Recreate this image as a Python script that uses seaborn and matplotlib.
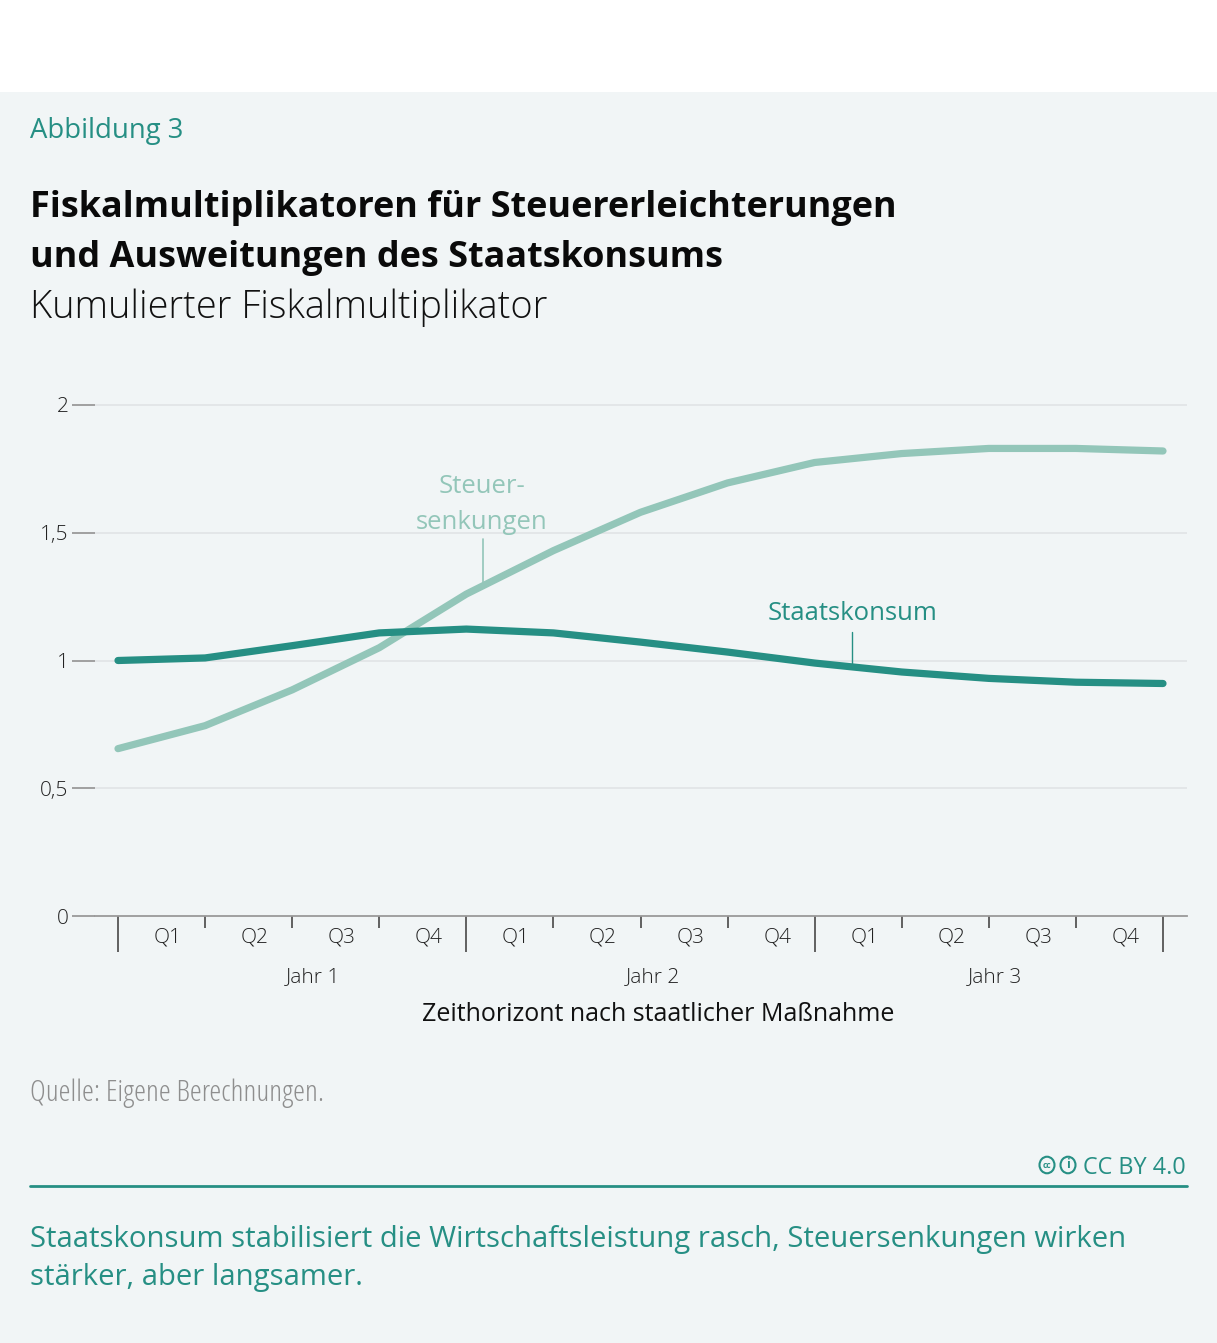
import matplotlib.pyplot as plt
import pandas as pd
import seaborn as sns
import numpy as np

# data
quarters = list(range(13))
staatskonsum = [1.0, 1.01, 1.058, 1.108, 1.123, 1.108, 1.072, 1.033, 0.99, 0.955, 0.93, 0.915, 0.91]
steuersenkungen = [0.655, 0.745, 0.885, 1.05, 1.26, 1.43, 1.58, 1.695, 1.775, 1.81, 1.83, 1.83, 1.82]
q_labels = ["Q1", "Q2", "Q3", "Q4"] * 3
year_labels = ["Jahr 1", "Jahr 2", "Jahr 3"]
y_ticks = [0, 0.5, 1, 1.5, 2]
y_tick_labels = ["0", "0,5", "1", "1,5", "2"]

DARK = "#268f84"
LIGHT = "#93c6b9"
BG = "#f1f5f6"
W, H = 1217, 1343


def px(x, y):
    # pixel position -> figure fraction
    return x / W, 1 - y / H


def main():
    sns.set_theme(style="white")
    plt.rcParams["font.family"] = ["Open Sans", "DejaVu Sans"]

    data = pd.DataFrame({
        "Quartal": quarters * 2,
        "Multiplikator": staatskonsum + steuersenkungen,
        "Reihe": ["Staatskonsum"] * 13 + ["Steuersenkungen"] * 13,
    })

    fig = plt.figure(figsize=(W / 100, H / 100), dpi=100, facecolor="white")
    # grey panel below the white band
    fig.patches.append(plt.Rectangle((0, 0), 1, 1 - 92 / H, transform=fig.transFigure,
                                     facecolor=BG, edgecolor="none", zorder=-10))

    left, right = 95, 1187
    top, bottom = 380, 916
    ax = fig.add_axes([left / W, 1 - bottom / H, (right - left) / W, (bottom - top) / H])
    ax.set_facecolor(BG)

    sns.lineplot(data=data, x="Quartal", y="Multiplikator", hue="Reihe",
                 palette={"Staatskonsum": DARK, "Steuersenkungen": LIGHT},
                 hue_order=["Steuersenkungen", "Staatskonsum"],
                 linewidth=5.2, legend=False, ax=ax, solid_capstyle="round")
    # dark line drawn above the light one
    ax.get_lines()[1].set_zorder(4)

    # axes limits: data 0 at px 118, data 12 at px 1163
    ppu = (1163 - 118) / 12
    ax.set_xlim((left - 118) / ppu, (right - 118) / ppu)
    ax.set_ylim(0, (bottom - top) / 255.5)

    for s in ["top", "right", "left"]:
        ax.spines[s].set_visible(False)
    ax.spines["bottom"].set_color("#9a9a9a")
    ax.spines["bottom"].set_linewidth(1.3)

    # horizontal grid
    for v in y_ticks[1:]:
        ax.axhline(v, color="#e2e5e7", linewidth=1.3, zorder=0)

    ax.set_yticks(y_ticks)
    ax.set_yticklabels(y_tick_labels, fontsize=15, color="#222222", fontweight="light")
    ax.tick_params(axis="y", left=True, length=16.5, width=1.3, color="#9a9a9a", pad=2.5)
    ax.get_yticklines()[4].set_color("#222222")
    ax.get_yticklines()[4].set_zorder(5)

    # x ticks: long at year boundaries, short at quarters
    ax.set_xticks([0, 4, 8, 12])
    ax.set_xticks([1, 2, 3, 5, 6, 7, 9, 10, 11], minor=True)
    ax.set_xticklabels([])
    ax.tick_params(axis="x", which="major", bottom=True, length=26, width=1.3, color="#555555")
    ax.tick_params(axis="x", which="minor", bottom=True, length=8.5, width=1.3, color="#555555")

    trans = ax.get_xaxis_transform()
    for i, lab in enumerate(q_labels):
        ax.text(i + 0.57, -0.041, lab, transform=trans, ha="center", va="center",
                fontsize=15, fontweight="light", color="#222222")
    for i, (lab, off) in enumerate(zip(year_labels, [0.24, 0.14, 0.07])):
        ax.text(4 * i + 2 + off, -0.114, lab, transform=trans, ha="center", va="center",
                fontsize=15, fontweight="light", color="#222222")
    ax.text(6.2, -0.183, "Zeithorizont nach staatlicher Maßnahme", transform=trans,
            ha="center", va="center", fontsize=18, color="#111111")
    ax.set_xlabel("")
    ax.set_ylabel("")

    # direct labels
    ax.text(4.18, 1.61, "Steuer-\nsenkungen", ha="center", va="center", color=LIGHT,
            fontsize=18.5, linespacing=1.58)
    ax.plot([4.19, 4.19], [1.3, 1.475], color=LIGHT, linewidth=1.2)
    ax.text(8.43, 1.185, "Staatskonsum", ha="center", va="center", color=DARK, fontsize=18.5)
    ax.plot([8.43, 8.43], [0.985, 1.11], color=DARK, linewidth=1.0)

    # header texts
    fig.text(*px(30, 131), "Abbildung 3", color=DARK, fontsize=19.8, va="center")
    fig.text(*px(30, 208), "Fiskalmultiplikatoren für Steuererleichterungen",
             fontsize=25.9, fontweight="bold", color="#0a0a0a", va="center")
    fig.text(*px(30, 258), "und Ausweitungen des Staatskonsums",
             fontsize=25.9, fontweight="bold", color="#0a0a0a", va="center")
    fig.text(*px(30, 308), "Kumulierter Fiskalmultiplikator", fontsize=27.3,
             fontweight="light", color="#111111", va="center")

    # footer
    fig.text(*px(30, 1093), "Quelle: Eigene Berechnungen.", fontsize=21.8, color="#8e8e8e",
             va="center", fontstretch="condensed")
    fig.text(*px(1186, 1168), "CC BY 4.0", fontsize=16.8, color=DARK, ha="right", va="center")
    for cx, sym in [(1047, "cc"), (1068, "i")]:
        fig.patches.append(plt.Circle(px(cx, 1165), 7.5 / W, transform=fig.transFigure,
                                      fill=False, edgecolor=DARK, linewidth=1.5))
        fig.text(*px(cx, 1165), sym, fontsize=6 if sym == "cc" else 9, color=DARK,
                 ha="center", va="center", fontweight="bold")
    fig.lines.append(plt.Line2D([30 / W, 1187 / W], [1 - 1186 / H] * 2, transform=fig.transFigure,
                                color=DARK, linewidth=2))
    fig.text(*px(30, 1240), "Staatskonsum stabilisiert die Wirtschaftsleistung rasch, Steuersenkungen wirken",
             fontsize=21.1, color=DARK, va="center")
    fig.text(*px(30, 1278), "stärker, aber langsamer.", fontsize=21.1, color=DARK, va="center")

    plt.savefig("out.png", dpi=100, facecolor="white")


if __name__ == "__main__":
    main()
